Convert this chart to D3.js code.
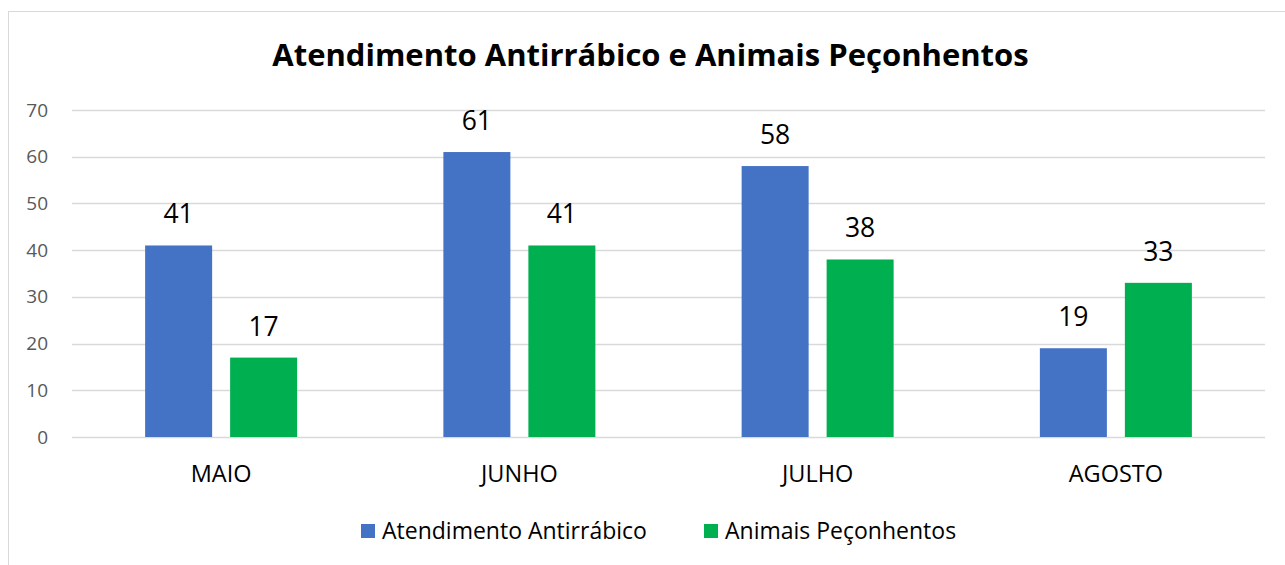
<!DOCTYPE html>
<html><head><meta charset="utf-8">
<script src="https://cdn.jsdelivr.net/npm/d3@7"></script>
<style>body{margin:0;background:#fff;}svg{display:block;font-family:"Open Sans",sans-serif;}</style>
</head><body>
<script>
const categories = ["MAIO", "JUNHO", "JULHO", "AGOSTO"];
const seriesNames = ["Atendimento Antirrábico", "Animais Peçonhentos"];
const antirrabico = [41, 61, 58, 19];
const peconhentos = [17, 41, 38, 33];
const yTicks = [0, 10, 20, 30, 40, 50, 60, 70];
const colors = ["#4472C4", "#00B050"];

(function () {
const W = 1285, H = 565;
const FONT = "'Open Sans',sans-serif";
const svg = d3.select("body").append("svg").attr("width", W).attr("height", H);
svg.append("rect").attr("x", 8.5).attr("y", 11.5).attr("width", W + 10).attr("height", H + 10)
  .attr("fill", "#fff").attr("stroke", "#d9d9d9").attr("stroke-width", 1);

const pLeft = 72, pRight = 1265, pTop = 110, pBottom = 437;
const x = d3.scaleBand().domain(categories).range([pLeft, pRight]);
const y = d3.scaleLinear().domain([0, 70]).range([pBottom, pTop]);
const barW = 67, gap = 18;
const x1 = d3.scaleOrdinal().domain([0, 1]).range([-(barW + gap / 2), gap / 2]);

// gridlines
svg.append("g").selectAll("line").data(yTicks).join("line")
  .attr("x1", pLeft).attr("x2", pRight)
  .attr("y1", d => Math.round(y(d)) + 0.5).attr("y2", d => Math.round(y(d)) + 0.5)
  .attr("stroke", "#d9d9d9").attr("stroke-width", 1.5);

// y axis labels
const yAxis = d3.axisLeft(y).tickValues(yTicks).tickSize(0).tickPadding(24);
const ga = svg.append("g").attr("transform", `translate(${pLeft},0)`).call(yAxis);
ga.select(".domain").remove();
ga.selectAll("text").attr("font-size", 19).attr("fill", "#595959").attr("font-family", FONT);

// x axis labels
const xAxis = d3.axisBottom(x).tickSize(0);
const gx = svg.append("g").attr("transform", `translate(0,${pBottom})`).call(xAxis);
gx.select(".domain").remove();
gx.selectAll("text").attr("y", 44.5).attr("dy", 0)
  .attr("font-size", 23.5).attr("fill", "#000").attr("font-family", FONT);

const data = categories.map((c, i) => ({c, vals: [antirrabico[i], peconhentos[i]]}));
const groups = svg.append("g").selectAll("g").data(data).join("g")
  .attr("transform", d => `translate(${x(d.c) + x.bandwidth() / 2},0)`);
groups.selectAll("rect").data(d => d.vals.map((v, k) => ({v, k}))).join("rect")
  .attr("x", d => x1(d.k)).attr("width", barW)
  .attr("y", d => y(d.v)).attr("height", d => y(0) - y(d.v))
  .attr("fill", d => colors[d.k]);
groups.selectAll("text").data(d => d.vals.map((v, k) => ({v, k}))).join("text")
  .attr("x", d => x1(d.k) + barW / 2).attr("y", d => y(d.v) - 22)
  .attr("text-anchor", "middle").attr("font-size", 26.5).attr("fill", "#000")
  .text(d => d.v);

// title
svg.append("text").attr("x", 650.5).attr("y", 66).attr("text-anchor", "middle")
  .attr("font-size", 31).attr("font-weight", "bold").attr("fill", "#000")
  .text("Atendimento Antirrábico e Animais Peçonhentos");

// legend
const legX = [361, 704];
const leg = svg.append("g").selectAll("g").data(seriesNames).join("g")
  .attr("transform", (d, i) => `translate(${legX[i]},524)`);
leg.append("rect").attr("width", 14).attr("height", 14).attr("fill", (d, i) => colors[i]);
leg.append("text").attr("x", 21).attr("y", 15).attr("font-size", 23).attr("fill", "#000").text(d => d);
})();
</script>
</body></html>
